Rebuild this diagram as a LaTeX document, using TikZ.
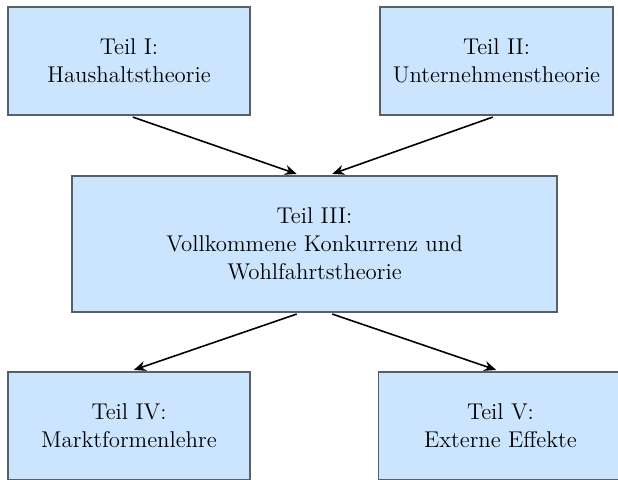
\documentclass[tikz,border=0pt]{standalone}
\usetikzlibrary{arrows.meta}
\definecolor{boxfill}{HTML}{CCE5FF}
\definecolor{boxline}{HTML}{5A5F66}
\begin{document}
\begin{tikzpicture}[x=0.5pt,y=-0.5pt,
  part/.style={draw=boxline,fill=boxfill,line width=0.75pt,inner sep=0pt,align=center,
    font=\fontsize{11.4}{14}\selectfont},
  flow/.style={-{Stealth[length=6pt,width=5pt]},line width=0.8pt,shorten <=2pt,shorten >=2pt}]
\useasboundingbox (0,0) rectangle (618,479);
\clip (0,0) rectangle (618,479);
\node[part,minimum width=121pt,minimum height=54pt] (b1) at (129,61) {Teil I:\\Haushaltstheorie};
\node[part,minimum width=116.5pt,minimum height=54pt] (b2) at (496.5,61) {Teil II:\\Unternehmenstheorie};
\node[part,minimum width=242.5pt,minimum height=68pt] (b3) at (314.5,244) {Teil III:\\Vollkommene Konkurrenz und\\Wohlfahrtstheorie};
\node[part,minimum width=121pt,minimum height=54pt] (b4) at (129,426) {Teil IV:\\Marktformenlehre};
\node[part,minimum width=122pt,minimum height=54pt] (b5) at (500.5,426) {Teil V:\\Externe Effekte};
\draw[flow] (b1.south) -- ([xshift=-7pt]b3.north);
\draw[flow] (b2.south) -- ([xshift=7pt]b3.north);
\draw[flow] ([xshift=-7pt]b3.south) -- ([xshift=0.5pt]b4.north);
\draw[flow] ([xshift=7pt]b3.south) -- ([xshift=-0.25pt]b5.north);
\end{tikzpicture}
\end{document}
